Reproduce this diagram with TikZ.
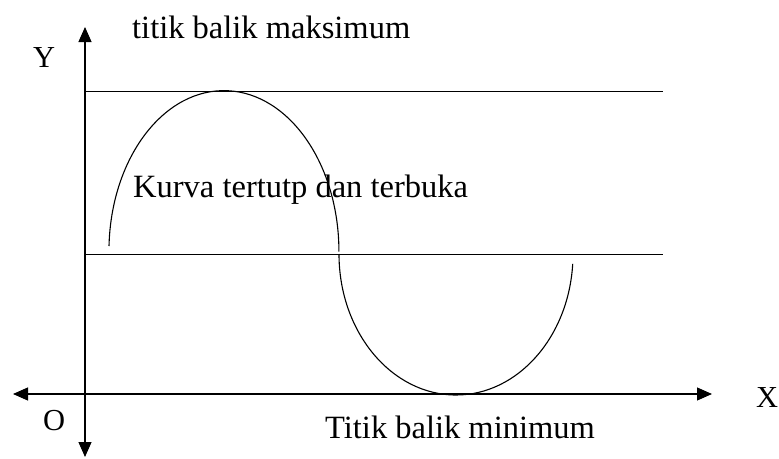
\documentclass[tikz,border=0pt]{standalone}
\usepackage{fontspec}
\setmainfont{Liberation Serif}
\usepackage{tikz}
\usetikzlibrary{arrows.meta}
\tikzset{
  lbl/.style={inner sep=0pt,anchor=base west,font=\fontsize{32.5}{38}\selectfont},
  sml/.style={inner sep=0pt,anchor=base west,font=\fontsize{30.5}{36}\selectfont},
  ax/.style={-{Triangle[length=15pt,width=13pt]},line width=1.1pt},
  garis/.style={line width=1pt},
  kv/.style={line width=1.1pt},
}

\begin{document}
\begin{tikzpicture}[x=1pt,y=-1pt]
\useasboundingbox (0,0) rectangle (779,458);
% axes
\coordinate (o) at (85,394);
\coordinate (ytop) at (85,27);
\coordinate (ybot) at (85,457);
\coordinate (xleft) at (13,394);
\coordinate (xright) at (712,394);
\draw[ax] (o) -- (ytop);
\draw[ax] (o) -- (ybot);
\draw[ax] (o) -- (xleft);
\draw[ax] (o) -- (xright);
% batas atas dan tengah
\coordinate (a1) at (85,91);
\coordinate (a2) at (663,91);
\coordinate (t1) at (85,254);
\coordinate (t2) at (663,254);
\draw[garis] (a1) -- (a2);
\draw[garis] (t1) -- (t2);
% kurva
\draw[kv] (109,246) arc[start angle=178,end angle=0,x radius=115pt,y radius=161pt];
\draw[kv] (339,254) arc[start angle=180,end angle=356,x radius=117pt,y radius=141pt];
% labels
\node[lbl] (maks) at (132,38) {titik balik maksimum};
\node[sml] (ylab) at (33,67) {Y};
\node[sml] (xlab) at (756,407) {X};
\node[sml] (olab) at (43,430) {O};
\node[lbl] (kurva) at (133,197) {Kurva tertutp dan terbuka};
\node[lbl] (mini) at (325,438) {Titik balik minimum};
\end{tikzpicture}
\end{document}
